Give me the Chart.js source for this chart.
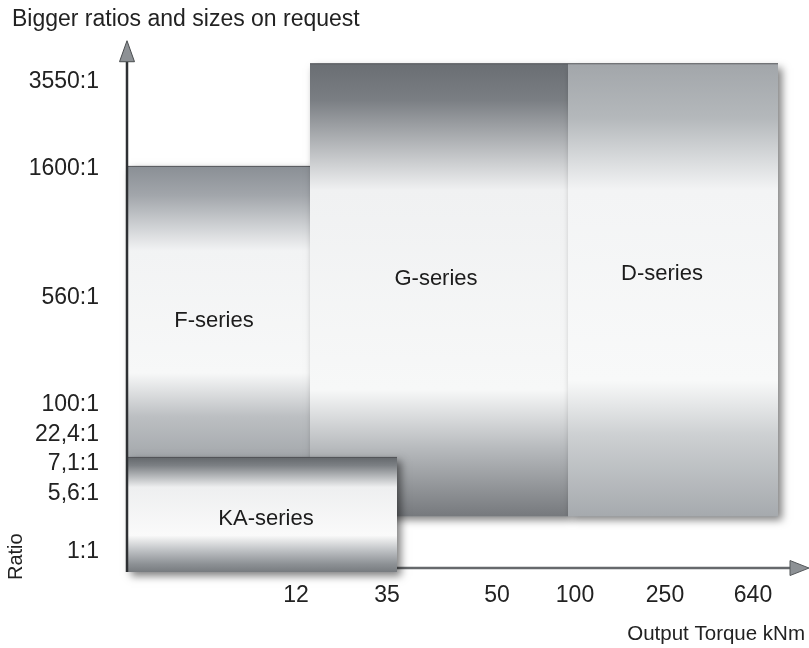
<!DOCTYPE html>
<html><head><meta charset="utf-8">
<style>html,body{margin:0;padding:0;background:#fff}#wrap{width:809px;height:648px}</style>
<script src="https://cdn.jsdelivr.net/npm/chart.js@4.4.0/dist/chart.umd.min.js"></script>
</head><body><div id="wrap"><canvas id="c" width="809" height="648"></canvas></div>
<script>
// ---- data (schematic axes: values are positions in axis slots) ----
const seriesNames = ['KA-series', 'D-series', 'G-series', 'F-series'];
const seriesTorqueFrom = [0, 44.1, 18.3, 0];
const seriesTorqueTo = [27, 65.1, 44.1, 18.3];
const seriesRatioLow = [-0.8, 10.4, 10.4, 22.2];
const seriesRatioHigh = [22.2, 101.2, 101.2, 80.6];
const labelTorquePos = [13.9, 53.5, 30.9, 8.7];
const labelRatioPos = [9.8, 59, 58, 49.6];

const torqueTickLabels = ['12', '35', '50', '100', '250', '640'];
const torqueTickPos = [16.9, 26, 37, 44.8, 53.8, 62.6];
const ratioTickLabels = ['3550:1', '1600:1', '560:1', '100:1', '22,4:1', '7,1:1', '5,6:1', '1:1'];
const ratioTickPos = [97.6, 80.2, 54.2, 32.8, 26.8, 21, 15, 3.2];

const axisTorqueEnd = 66.3;
const axisRatioEnd = 101.6;

// ---- styles ----
const FONT = "'Liberation Sans', Arial, Helvetica, sans-serif";
const gradStops = [
  [[0, '#64686c'], [0.07, '#7c8084'], [0.26, '#eeeff0'], [0.68, '#fafafa'], [0.81, '#bfc2c5'], [0.93, '#8d9195'], [1, '#777b7f']],
  [[0, '#a2a6aa'], [0.12, '#b4b8bb'], [0.28, '#f3f4f5'], [0.7, '#f8f9f9'], [0.82, '#cdd0d2'], [1, '#a6aaae']],
  [[0, '#6a6e73'], [0.08, '#7a7e83'], [0.28, '#f0f1f2'], [0.72, '#f7f8f8'], [0.85, '#b7babd'], [1, '#76797d']],
  [[0, '#8a8f95'], [0.1, '#a2a6ab'], [0.29, '#f2f3f4'], [0.71, '#f7f8f8'], [0.86, '#bcbfc2'], [1, '#a4a8ac']]
];

function makeGrad(context, i) {
  const chart = context.chart;
  if (!chart.chartArea) return '#cccccc';
  const ys = chart.scales.y;
  const y0 = ys.getPixelForValue(seriesRatioHigh[i]);
  const y1 = ys.getPixelForValue(seriesRatioLow[i]);
  const g = chart.ctx.createLinearGradient(0, y0, 0, y1);
  gradStops[i].forEach(s => g.addColorStop(s[0], s[1]));
  return g;
}

const datasets = seriesNames.map((name, i) => ({
  label: name,
  data: [{x: seriesTorqueFrom[i], y: seriesRatioHigh[i]}, {x: seriesTorqueTo[i], y: seriesRatioHigh[i]}],
  fill: {value: seriesRatioLow[i]},
  backgroundColor: ctx => makeGrad(ctx, i),
  borderColor: 'rgba(70,72,75,0.85)',
  borderWidth: 1,
  pointRadius: 0,
  tension: 0,
  clip: false
}));

function drawShadow(chart, i) {
  const c = chart.ctx, xs = chart.scales.x, ys = chart.scales.y;
  const x0 = xs.getPixelForValue(seriesTorqueFrom[i]), x1 = xs.getPixelForValue(seriesTorqueTo[i]);
  const y0 = ys.getPixelForValue(seriesRatioHigh[i]), y1 = ys.getPixelForValue(seriesRatioLow[i]);
  c.save();
  c.shadowColor = 'rgba(0,0,0,0.5)'; c.shadowBlur = 8; c.shadowOffsetX = 4; c.shadowOffsetY = 4;
  c.fillStyle = '#9a9ea2';
  c.fillRect(x0, y0, x1 - x0, y1 - y0);
  c.restore();
}

const decor = {
  id: 'decor',
  beforeDatasetsDraw(chart) {
    const c = chart.ctx, xs = chart.scales.x, ys = chart.scales.y;
    const y0 = ys.getPixelForValue(0);
    const xa = xs.getPixelForValue(0), xb = xs.getPixelForValue(axisTorqueEnd);
    c.save();
    c.strokeStyle = '#66696c'; c.lineWidth = 2.5;
    c.beginPath(); c.moveTo(xa, y0); c.lineTo(xb, y0); c.stroke();
    c.fillStyle = '#8d9195'; c.strokeStyle = '#55585b'; c.lineWidth = 1;
    c.beginPath(); c.moveTo(xb, y0 - 7.5); c.lineTo(xb + 19, y0); c.lineTo(xb, y0 + 7.5); c.closePath(); c.fill(); c.stroke();
    c.restore();
    drawShadow(chart, seriesNames.length - 1);
  },
  afterDatasetDraw(chart, args) {
    if (args.index > 0) drawShadow(chart, args.index - 1);
  },
  afterDatasetsDraw(chart) {
    const c = chart.ctx, xs = chart.scales.x, ys = chart.scales.y;
    const x0 = xs.getPixelForValue(0);
    const yb = ys.getPixelForValue(seriesRatioLow[0]), yt = ys.getPixelForValue(axisRatioEnd);
    c.save();
    c.strokeStyle = '#2e3033'; c.lineWidth = 2.5;
    c.beginPath(); c.moveTo(x0, yb); c.lineTo(x0, yt); c.stroke();
    c.fillStyle = '#8d9195'; c.strokeStyle = '#4a4d50'; c.lineWidth = 1;
    c.beginPath(); c.moveTo(x0 - 7.5, yt); c.lineTo(x0, yt - 21); c.lineTo(x0 + 7.5, yt); c.closePath(); c.fill(); c.stroke();
    c.fillStyle = '#1c1c1c'; c.font = '22px ' + FONT; c.textAlign = 'center'; c.textBaseline = 'middle';
    seriesNames.forEach((n, i) => c.fillText(n, xs.getPixelForValue(labelTorquePos[i]), ys.getPixelForValue(labelRatioPos[i])));
    c.restore();
  }
};

new Chart(document.getElementById('c'), {
  type: 'line',
  data: {datasets},
  plugins: [decor],
  options: {
    responsive: false,
    animation: false,
    layout: {padding: {left: 12, right: 4, top: 0, bottom: 0}},
    plugins: {
      legend: {display: false},
      tooltip: {enabled: false},
      title: {display: true, text: 'Bigger ratios and sizes on request', align: 'start', color: '#222',
        font: {family: FONT, size: 23, weight: 'normal'}, padding: {top: 4, bottom: 8.4}}
    },
    scales: {
      x: {
        type: 'linear', position: 'bottom', min: 0, max: 67.8,
        afterBuildTicks: s => { s.ticks = torqueTickPos.map(v => ({value: v})); },
        afterFit: s => { s.height = 68; },
        grid: {display: false, drawTicks: false}, border: {display: false},
        ticks: {autoSkip: false, maxRotation: 0, padding: 2, color: '#222', font: {family: FONT, size: 23},
          callback: (v, i) => torqueTickLabels[i]},
        title: {display: true, text: 'Output Torque kNm', align: 'end', color: '#222',
          font: {family: FONT, size: 20.5}, padding: {top: 0, bottom: 1}}
      },
      y: {
        type: 'linear', min: -2.4, max: 105.6,
        afterBuildTicks: s => { s.ticks = ratioTickPos.map(v => ({value: v})); },
        afterFit: s => { s.width = 115; },
        grid: {display: false, drawTicks: false}, border: {display: false},
        ticks: {autoSkip: false, padding: 28, color: '#222', font: {family: FONT, size: 23},
          callback: (v, i) => ratioTickLabels[i]},
        title: {display: true, text: 'Ratio', align: 'start', color: '#222',
          font: {family: FONT, size: 20}, padding: {top: -8, bottom: 0}}
      }
    }
  }
});
</script></body></html>
